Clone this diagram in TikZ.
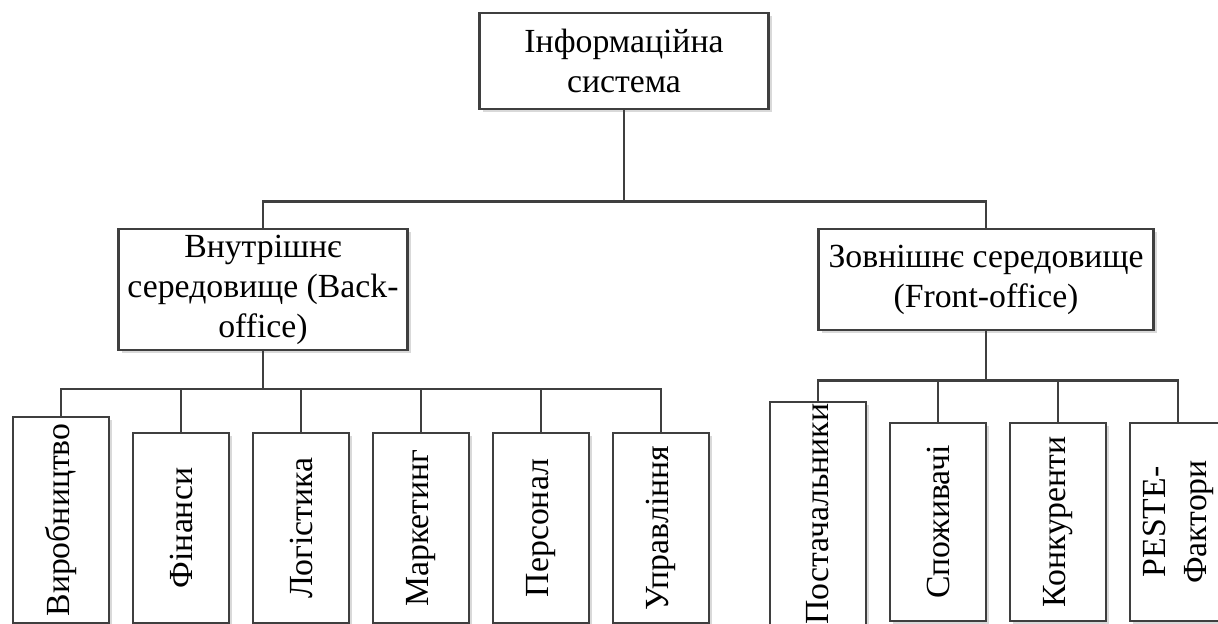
\documentclass[tikz,border=0pt]{standalone}
\usepackage{graphicx}
\usepackage{fontspec}
\setmainfont{Liberation Serif}
\usetikzlibrary{shadows}
\definecolor{lineclr}{HTML}{3F3F3F}

\begin{document}
\begin{tikzpicture}[x=0.025cm, y=-0.025cm, line width=1.8pt, draw=lineclr,
	box/.style={rectangle, draw=lineclr, fill=white, align=center, inner sep=0pt,
		font=\fontsize{24}{28.5}\selectfont,
		general shadow={fill=black!15, draw=none, shadow xshift=2.2pt, shadow yshift=-2.2pt}},
	dept/.style={box, minimum width=2.4cm}]
	\clip (0,0) rectangle (1218,624);
	\fill[white] (0,0) rectangle (1218,624);

	\node (IS)    at (624, 61)    [box, minimum width=7.225cm, minimum height=2.4cm]   {Інформаційна\\система};
	\node (inner) at (263, 289.5) [box, minimum width=7.225cm, minimum height=3.025cm] {Внутрішнє\\середовище (Back-\\office)};
	\node (outer) at (986, 279.5) [box, minimum width=8.375cm, minimum height=2.525cm] {Зовнішнє середовище\\(Front-office)};

	% back-office
	\node (vyr) at (61, 520)  [dept, minimum height=5.15cm] {\rotatebox{90}{Виробництво}};
	\node (fin) at (181, 528) [dept, minimum height=4.75cm] {\rotatebox{90}{Фінанси}};
	\node (log) at (301, 528) [dept, minimum height=4.75cm] {\rotatebox{90}{Логістика}};
	\node (mar) at (421, 528) [dept, minimum height=4.75cm] {\rotatebox{90}{Маркетинг}};
	\node (per) at (541, 528) [dept, minimum height=4.75cm] {\rotatebox{90}{Персонал}};
	\node (upr) at (661, 528) [dept, minimum height=4.75cm] {\rotatebox{90}{Управління}};

	% front-office
	\node (pos) at (818, 514)  [dept, minimum height=5.6cm]  {\rotatebox{90}{Постачальники}};
	\node (spo) at (938, 522)  [dept, minimum height=4.95cm] {\rotatebox{90}{Споживачі}};
	\node (kon) at (1058, 522) [dept, minimum height=4.95cm] {\rotatebox{90}{Конкуренти}};
	\node (pes) at (1178, 522) [dept, minimum height=4.95cm] {\rotatebox{90}{\begin{tabular}{@{}c@{}}PESTE-\\Фактори\end{tabular}}};

	\draw (IS.south) -- ++(0,91) coordinate (bus0);
	\draw (inner.north) |- (bus0) -| (outer.north);

	\draw (inner.south) -- ++(0,37.5) coordinate (bus1);
	\foreach \n in {vyr,fin,log,mar,per,upr}
		\draw (bus1) -| (\n.north);

	\draw (outer.south) -- ++(0,49) coordinate (bus2);
	\foreach \n in {pos,spo,kon,pes}
		\draw (bus2) -| (\n.north);
\end{tikzpicture}
\end{document}
